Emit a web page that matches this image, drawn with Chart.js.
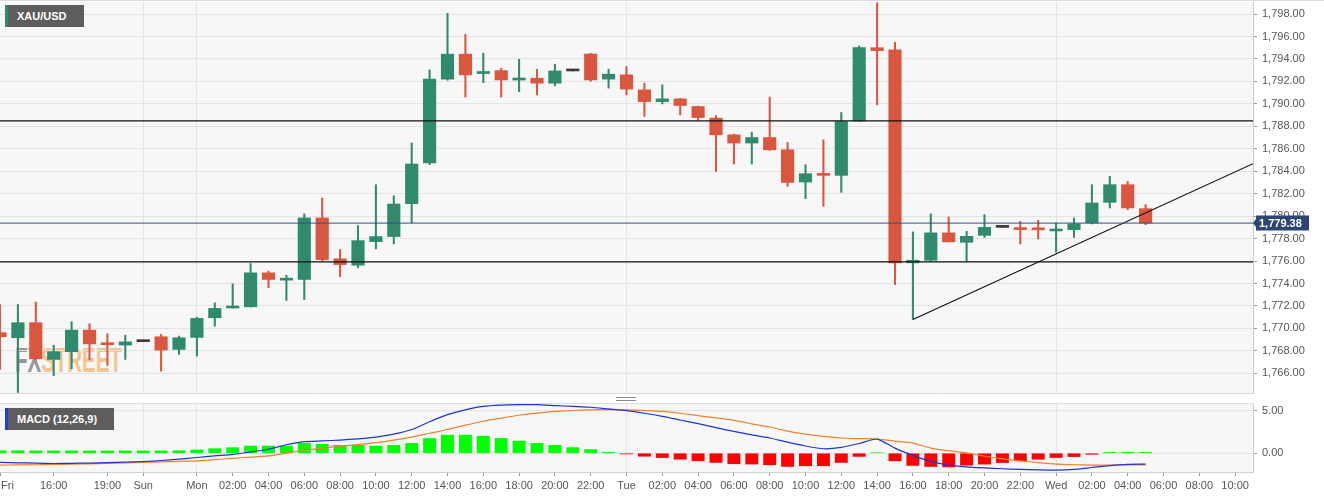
<!DOCTYPE html>
<html>
<head>
<meta charset="utf-8">
<script src="https://cdn.jsdelivr.net/npm/chart.js"></script>
<style>
    body { margin: 0; background: #fff; font-family: "Liberation Sans", Arial, sans-serif; }
    #stage { position: relative; width: 1324px; height: 498px; overflow: hidden; }
    .abs { position: absolute; }
    .plotbg { background: #f7f7f7; }
    .tag {
        position: absolute; height: 22px; line-height: 22px; box-sizing: border-box;
        background: #5d5d5d; color: #fff; font-size: 11px; font-weight: bold; padding-left: 9px;
    }
    .logo {
        left: 15px; top: 342px; font-family: "Liberation Sans Narrow", "Liberation Sans", Arial, sans-serif;
        font-weight: bold; font-size: 35px; line-height: 35px; color: #8c8c8c;
        transform: scaleX(0.585); transform-origin: left top; white-space: nowrap; opacity: 0.9;
    }
    .logo span { color: #f2bf86; }
</style>
</head>
<body>
<div id="stage">
    <div class="abs" style="left:0;top:0;width:1324px;height:1px;background:#d9d9e6"></div>
    <div class="abs plotbg" style="left:0;top:2px;width:1253px;height:391px"></div>
    <div class="abs plotbg" style="left:0;top:403px;width:1253px;height:69px;border-top:1px solid #dedee6"></div>
    <div class="abs logo">FX<span>STREET</span></div>

    <canvas id="priceChart" class="abs" width="1324" height="394" style="left:0;top:0"></canvas>
    <canvas id="macdChart" class="abs" width="1324" height="103" style="left:0;top:395px"></canvas>

    <div class="tag" style="left:5px;top:5px;width:79px;border-left:3px solid #2f8a6e">XAU/USD</div>
    <div class="tag" style="left:5px;top:408px;width:109px;border-left:3px solid #1d3fd6">MACD (12,26,9)</div>
    <div class="abs" style="left:616px;top:397px;width:20px;height:2px;border-top:1px solid #8a8a8a;border-bottom:1px solid #8a8a8a"></div>
</div>

<script>
    // hourly XAU/USD candles, Fri 13:00 -> Wed 05:00 (weekend gap removed)
    const opens = [1769.62, 1769.17, 1770.51, 1767.24, 1767.93, 1769.85, 1768.65, 1768.52, 1768.82, 1769.26,
        1768.13, 1769.20, 1770.95, 1771.82, 1771.93, 1774.95, 1774.30, 1774.36, 1779.84, 1776.20,
        1775.63, 1777.73, 1778.18, 1781.11, 1784.73, 1792.20, 1794.42, 1792.70, 1792.96, 1792.12,
        1792.28, 1791.84, 1792.93, 1794.44, 1792.20, 1792.58, 1791.24, 1790.20, 1790.44, 1789.76,
        1788.73, 1787.24, 1786.51, 1787.00, 1785.91, 1783.04, 1783.78, 1783.63, 1788.49, 1795.00,
        1794.80, 1775.84, 1776.07, 1778.51, 1777.67, 1778.29, 1779.00, 1778.95, 1778.82, 1778.68,
        1778.80, 1779.40, 1781.23, 1782.80, 1780.67];
    const highs = [1772.13, 1772.13, 1772.34, 1768.50, 1770.60, 1770.42, 1769.53, 1769.40, 1768.82, 1769.47,
        1769.32, 1771.00, 1772.28, 1773.97, 1775.78, 1775.10, 1774.74, 1780.20, 1781.62, 1777.02,
        1779.16, 1782.80, 1781.82, 1786.51, 1793.02, 1798.06, 1796.20, 1794.51, 1793.17, 1793.97,
        1793.08, 1793.53, 1792.93, 1794.50, 1793.08, 1793.32, 1791.84, 1791.69, 1790.50, 1789.80,
        1788.96, 1787.30, 1787.48, 1790.60, 1786.56, 1784.58, 1786.80, 1789.23, 1795.16, 1799.00,
        1795.48, 1778.60, 1780.20, 1779.93, 1778.65, 1780.13, 1779.00, 1779.54, 1779.63, 1779.40,
        1779.84, 1782.80, 1783.54, 1783.09, 1781.02];
    const lows = [1766.36, 1764.30, 1767.20, 1765.80, 1766.40, 1767.24, 1766.70, 1767.24, 1768.82, 1766.20,
        1767.69, 1767.54, 1770.20, 1771.80, 1771.90, 1773.62, 1772.49, 1772.58, 1776.00, 1774.60,
        1775.40, 1777.08, 1777.53, 1779.40, 1784.58, 1792.10, 1790.60, 1791.89, 1790.60, 1791.09,
        1790.80, 1791.60, 1792.93, 1792.00, 1791.40, 1790.80, 1788.87, 1790.00, 1789.02, 1788.52,
        1783.98, 1784.64, 1784.64, 1785.85, 1782.65, 1781.56, 1780.87, 1782.12, 1788.45, 1789.91,
        1773.91, 1770.80, 1776.00, 1777.70, 1775.98, 1778.10, 1779.00, 1777.53, 1777.97, 1776.78,
        1778.10, 1779.31, 1780.73, 1780.58, 1779.24];
    const closes = [1769.26, 1770.51, 1767.30, 1767.93, 1769.85, 1768.62, 1768.55, 1768.80, 1768.82, 1768.07,
        1769.17, 1770.89, 1771.78, 1771.88, 1774.95, 1774.36, 1774.42, 1779.84, 1776.13, 1775.69,
        1777.82, 1778.18, 1781.08, 1784.64, 1792.20, 1794.42, 1792.58, 1792.88, 1792.13, 1792.30,
        1791.84, 1792.93, 1792.93, 1792.13, 1792.64, 1791.31, 1790.20, 1790.44, 1789.85, 1788.78,
        1787.24, 1786.51, 1787.00, 1785.91, 1783.00, 1783.78, 1783.63, 1788.43, 1795.00, 1794.74,
        1775.84, 1776.07, 1778.51, 1777.71, 1778.20, 1779.00, 1779.00, 1778.80, 1778.78, 1778.72,
        1779.31, 1781.17, 1782.80, 1780.73, 1779.38];

    // MACD (12,26,9)
    const macdLine = [-1.08, -1.12, -1.16, -1.20, -1.18, -1.15, -1.10, -1.05, -0.97, -0.85,
        -0.68, -0.50, -0.30, -0.12, 0.15, 0.47, 1.00, 1.36, 1.45, 1.55,
        1.70, 1.90, 2.25, 2.79, 3.70, 4.53, 5.10, 5.50, 5.65, 5.70,
        5.70, 5.60, 5.50, 5.40, 5.20, 5.00, 4.70, 4.34, 3.90, 3.47,
        3.00, 2.57, 2.15, 1.79, 1.30, 0.85, 0.53, 0.68, 1.15, 1.67,
        0.60, -0.25, -0.96, -1.40, -1.60, -1.72, -1.82, -1.90, -1.95, -1.98,
        -1.90, -1.67, -1.45, -1.30, -1.28];
    const signalLine = [-1.39, -1.37, -1.35, -1.32, -1.28, -1.24, -1.18, -1.12, -1.08, -1.02,
        -0.95, -0.89, -0.75, -0.60, -0.45, -0.31, 0.02, 0.35, 0.60, 0.82,
        1.03, 1.24, 1.55, 1.90, 2.35, 2.79, 3.30, 3.76, 4.12, 4.46,
        4.72, 4.92, 5.02, 5.10, 5.12, 5.10, 5.02, 4.92, 4.70, 4.41,
        4.15, 3.86, 3.45, 3.08, 2.60, 2.25, 1.98, 1.79, 1.72, 1.67,
        1.42, 1.20, 0.61, 0.30, 0.05, -0.35, -0.65, -0.89, -1.10, -1.28,
        -1.35, -1.39, -1.38, -1.36, -1.36];
    const macdHist = [0.30, 0.30, 0.28, 0.28, 0.28, 0.28, 0.28, 0.28, 0.28, 0.28,
        0.30, 0.39, 0.54, 0.66, 0.85, 0.85, 0.85, 1.16, 1.05, 0.93,
        0.93, 0.85, 0.93, 1.16, 1.74, 2.13, 2.13, 2.00, 1.74, 1.43,
        1.16, 0.93, 0.66, 0.43, 0.12, -0.08, -0.35, -0.50, -0.70, -0.88,
        -1.08, -1.23, -1.27, -1.35, -1.55, -1.47, -1.47, -1.08, -0.37, 0.05,
        -0.88, -1.43, -1.55, -1.60, -1.40, -1.28, -1.09, -0.89, -0.70, -0.50,
        -0.39, -0.12, 0.10, 0.12, 0.10];

    const priceTicks = [1766, 1768, 1770, 1772, 1774, 1776, 1778, 1780, 1782, 1784, 1786, 1788, 1790, 1792, 1794, 1796, 1798];
    const macdTicks = [0, 5];
    const timeTickPos = [0, 3, 6, 8, 11, 13, 15, 17, 19, 21, 23, 25, 27, 29, 31, 33, 35,
        37, 39, 41, 43, 45, 47, 49, 51, 53, 55, 57, 59, 61, 63, 65, 67, 69];
    const timeTickLabels = ['Fri', '16:00', '19:00', 'Sun', 'Mon', '02:00', '04:00', '06:00', '08:00', '10:00', '12:00',
        '14:00', '16:00', '18:00', '20:00', '22:00', 'Tue', '02:00', '04:00', '06:00', '08:00', '10:00', '12:00',
        '14:00', '16:00', '18:00', '20:00', '22:00', 'Wed', '02:00', '04:00', '06:00', '08:00', '10:00'];
    const dayBreaks = [8, 11, 35, 59];

    // drawn levels
    const levels = [1788.49, 1775.93];
    const trendStart = [51, 1770.8];
    const trendEnd = [70, 1784.67];
    const lastPrice = 1779.38;

    const xMax = 70;
    const upColor = '#2f8a6e', downColor = '#d9563f', flatColor = '#3a3a3a';

    Chart.defaults.font.family = '"Liberation Sans", Arial, sans-serif';
    Chart.defaults.color = '#555';

    const idx = opens.map((_, i) => i);
    const candleColors = idx.map(i => closes[i] > opens[i] ? upColor : (closes[i] < opens[i] ? downColor : flatColor));
    const histColors = macdHist.map(v => v >= 0 ? '#00ff00' : '#ff0000');

    const fmt = v => v.toLocaleString('en-US', { minimumFractionDigits: 2, maximumFractionDigits: 2 });

    function hLine(value, color, width) {
        return {
            type: 'line', data: [{ x: 0, y: value }, { x: xMax, y: value }],
            borderColor: color, borderWidth: width, pointRadius: 0, order: 0
        };
    }

    const priceTag = {
        id: 'priceTag',
        afterDraw(chart) {
            const { ctx, chartArea, scales } = chart;
            const py = Math.round(scales.y.getPixelForValue(lastPrice));
            ctx.save();
            ctx.fillStyle = '#2c4571';
            ctx.fillRect(chartArea.right + 3, py - 7.5, 53, 15);
            ctx.beginPath();
            ctx.moveTo(chartArea.right, py);
            ctx.lineTo(chartArea.right + 3, py - 4);
            ctx.lineTo(chartArea.right + 3, py + 4);
            ctx.fill();
            ctx.fillStyle = '#fff';
            ctx.font = 'bold 11px "Liberation Sans", Arial, sans-serif';
            ctx.textBaseline = 'middle';
            ctx.fillText(fmt(lastPrice), chartArea.right + 6, py + 0.5);
            ctx.restore();
        }
    };

    new Chart(document.getElementById('priceChart'), {
        type: 'bar',
        data: {
            datasets: [
                hLine(levels[0], '#111', 1.3),
                hLine(levels[1], '#111', 1.3),
                hLine(lastPrice, '#33507a', 1),
                {
                    type: 'line', data: [{ x: trendStart[0], y: trendStart[1] }, { x: trendEnd[0], y: trendEnd[1] }],
                    borderColor: '#111', borderWidth: 1.2, pointRadius: 0, order: 0
                },
                {
                    data: idx.map(i => ({ x: i, y: [opens[i], closes[i]] })),
                    backgroundColor: candleColors, barThickness: 12.5, minBarLength: 2, order: 2
                },
                {
                    data: idx.map(i => ({ x: i, y: [lows[i], highs[i]] })),
                    backgroundColor: candleColors, barThickness: 1.4, minBarLength: 1, order: 3
                }
            ]
        },
        options: {
            responsive: false,
            animation: false,
            layout: { padding: { top: 2, bottom: 1, left: 0, right: 0 } },
            datasets: { bar: { grouped: false, clip: 0 } },
            plugins: { legend: { display: false }, tooltip: { enabled: false } },
            scales: {
                x: {
                    type: 'linear', min: 0, max: xMax, offset: false,
                    grid: { offset: false, color: '#e3e3e3', drawTicks: false },
                    border: { color: '#d6d6d6' },
                    ticks: { display: false },
                    afterBuildTicks: s => { s.ticks = dayBreaks.map(v => ({ value: v })); },
                    afterFit: s => { s.height = 0; s.paddingLeft = 0; s.paddingRight = 0; }
                },
                y: {
                    position: 'right', min: 1764.25, max: 1799.07, beginAtZero: false,
                    grid: { color: '#e4e4e4', tickLength: 4, tickColor: '#9a9a9a' },
                    border: { color: '#c9cbd8' },
                    ticks: { color: '#555', font: { size: 11 }, padding: 5, callback: v => fmt(v) },
                    afterBuildTicks: s => { s.ticks = priceTicks.map(v => ({ value: v })); },
                    afterFit: s => { s.width = 71; s.paddingTop = 0; s.paddingBottom = 0; }
                }
            }
        },
        plugins: [priceTag]
    });

    // first time label sits flush with the left edge
    const firstLabel = {
        id: 'firstLabel',
        afterDraw(chart) {
            const { ctx, scales } = chart;
            const px = scales.x.getPixelForValue(timeTickPos[0]);
            ctx.save();
            ctx.fillStyle = '#555';
            ctx.font = '11px "Liberation Sans", Arial, sans-serif';
            ctx.textAlign = 'left';
            ctx.textBaseline = 'middle';
            ctx.fillText(timeTickLabels[0], px + 1, scales.x.top + 4 + 3 + 6.6);
            ctx.restore();
        }
    };

    new Chart(document.getElementById('macdChart'), {
        type: 'bar',
        data: {
            datasets: [
                {
                    type: 'line', data: idx.map(i => ({ x: i, y: macdLine[i] })),
                    borderColor: '#1f35cc', borderWidth: 1.2, pointRadius: 0, tension: 0.2, order: 0
                },
                {
                    type: 'line', data: idx.map(i => ({ x: i, y: signalLine[i] })),
                    borderColor: '#f0802e', borderWidth: 1.2, pointRadius: 0, tension: 0.2, order: 1
                },
                {
                    data: idx.map(i => ({ x: i, y: macdHist[i] })),
                    backgroundColor: histColors, barThickness: 12.3, order: 2
                }
            ]
        },
        options: {
            responsive: false,
            animation: false,
            layout: { padding: { top: 8, bottom: 0, left: 0, right: 0 } },
            datasets: { bar: { grouped: false, clip: 0 } },
            plugins: { legend: { display: false }, tooltip: { enabled: false } },
            scales: {
                x: {
                    type: 'linear', min: 0, max: xMax, offset: false,
                    grid: {
                        offset: false, tickLength: 4, tickColor: '#9a9a9a',
                        color: c => dayBreaks.includes(c.tick && c.tick.value) ? '#e6e6e6' : 'rgba(0,0,0,0)'
                    },
                    border: { color: '#cfcfd8' },
                    ticks: {
                        autoSkip: false, maxRotation: 0, padding: 3, color: '#555', font: { size: 11 },
                        callback: v => { const k = timeTickPos.indexOf(v); return k > 0 ? timeTickLabels[k] : ''; }
                    },
                    afterBuildTicks: s => { s.ticks = timeTickPos.map(v => ({ value: v })); },
                    afterFit: s => { s.height = 26; s.paddingLeft = 0; s.paddingRight = 0; }
                },
                y: {
                    position: 'right', min: -2.2, max: 5.9, beginAtZero: false,
                    grid: { color: '#e4e4e4', tickLength: 4, tickColor: '#9a9a9a' },
                    border: { color: '#c9cbd8' },
                    ticks: { color: '#555', font: { size: 11 }, padding: 5, callback: v => v.toFixed(2) },
                    afterBuildTicks: s => { s.ticks = macdTicks.map(v => ({ value: v })); },
                    afterFit: s => { s.width = 71; s.paddingTop = 0; s.paddingBottom = 0; }
                }
            }
        },
        plugins: [firstLabel]
    });
</script>
</body>
</html>
